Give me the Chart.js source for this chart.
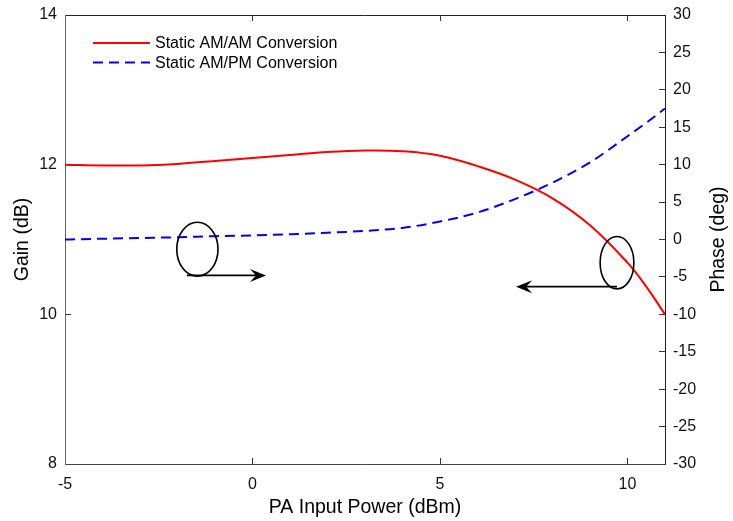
<!DOCTYPE html>
<html>
<head>
<meta charset="utf-8">
<title>Static AM/AM and AM/PM conversion</title>
<script src="https://cdn.jsdelivr.net/npm/chart.js@4.4.1/dist/chart.umd.min.js"></script>
<style>
  html, body { margin: 0; padding: 0; background: #fff; }
  canvas { display: block; }
</style>
</head>
<body>
<canvas id="amChart" width="733" height="521"></canvas>
<script>
// input power samples (dBm)
const inputPower = [-5, -4, -3, -2, -1, 0, 1, 2, 3, 4, 5, 6, 7, 8, 9, 10, 10.5, 11];
// gain (dB), left axis
const gainDb = [12.00, 11.99, 11.99, 12.01, 12.05, 12.09, 12.13, 12.17, 12.19, 12.18, 12.12, 11.98, 11.80, 11.55, 11.19, 10.69, 10.37, 10.00];
// phase (deg), right axis
const phaseDeg = [0.0, 0.1, 0.2, 0.3, 0.45, 0.55, 0.7, 0.9, 1.15, 1.55, 2.4, 3.6, 5.4, 7.6, 10.3, 13.8, 15.6, 17.5];

const xTicks = [-5, 0, 5, 10];
const gainTicks = [8, 10, 12, 14];
const phaseTicks = [-30, -25, -20, -15, -10, -5, 0, 5, 10, 15, 20, 25, 30];

// annotation marks, in data units (x: dBm, y: gain dB)
const ellipseCx = [-1.47, 9.72];
const ellipseCy = [10.87, 10.69];
const ellipseRx = [0.55, 0.45];
const ellipseRy = [0.36, 0.35];
const arrowFrom = [-1.75, 9.72];
const arrowTo = [0.36, 7.03];
const arrowY = [10.52, 10.37];

const FONT = '"Liberation Sans", Arial, Helvetica, sans-serif';
Chart.defaults.font.family = FONT;
Chart.defaults.color = '#111';

const toPts = (xs, ys) => xs.map((x, i) => ({x, y: ys[i]}));
const setTicks = vals => scale => { scale.ticks = vals.map(v => ({value: v})); };
const axisGrid = { drawOnChartArea: false, drawTicks: true, tickLength: -6, color: '#333', lineWidth: 1 };
// fixed box sizes, and no extra room for half-labels at the ends
const fixWidth = w => s => { s.width = w; s.paddingTop = 0; s.paddingBottom = 0; };
const fixHeight = h => s => { s.height = h; s.paddingLeft = 0; s.paddingRight = 0; };

// ellipses + arrows drawn on top, through the scales
const annotations = {
  id: 'annotations',
  afterDatasetsDraw(chart){
    const {ctx, scales: {x, y}} = chart;
    ctx.save();
    ctx.strokeStyle = '#000';
    ctx.fillStyle = '#000';
    ctx.lineWidth = 1.6;
    ellipseCx.forEach((cx, i) => {
      const px = x.getPixelForValue(cx), py = y.getPixelForValue(ellipseCy[i]);
      const rx = Math.abs(x.getPixelForValue(cx + ellipseRx[i]) - px);
      const ry = Math.abs(y.getPixelForValue(ellipseCy[i] + ellipseRy[i]) - py);
      ctx.beginPath();
      ctx.ellipse(px, py, rx, ry, 0, 0, Math.PI * 2);
      ctx.stroke();
    });
    arrowFrom.forEach((x0, i) => {
      const a = x.getPixelForValue(x0), b = x.getPixelForValue(arrowTo[i]);
      const py = y.getPixelForValue(arrowY[i]);
      const dir = Math.sign(b - a);
      ctx.beginPath();
      ctx.moveTo(a, py);
      ctx.lineTo(b - dir * 6, py);
      ctx.stroke();
      // stealth style head
      ctx.beginPath();
      ctx.moveTo(b, py);
      ctx.lineTo(b - dir * 16, py - 6.5);
      ctx.lineTo(b - dir * 10, py);
      ctx.lineTo(b - dir * 16, py + 6.5);
      ctx.closePath();
      ctx.fill();
    });
    ctx.restore();
  }
};

// legend inside the plot, top-left, no frame
const insideLegend = {
  id: 'insideLegend',
  afterDraw(chart){
    const {ctx, chartArea} = chart;
    ctx.save();
    ctx.font = '16px ' + FONT;
    ctx.textBaseline = 'middle';
    chart.data.datasets.forEach((ds, i) => {
      const yy = chartArea.top + 28 + i * 19.5;
      const x0 = chartArea.left + 28;
      ctx.strokeStyle = ds.borderColor;
      ctx.lineWidth = ds.borderWidth;
      ctx.setLineDash(ds.borderDash || []);
      ctx.beginPath();
      ctx.moveTo(x0, yy);
      ctx.lineTo(x0 + 57, yy);
      ctx.stroke();
      ctx.setLineDash([]);
      ctx.fillStyle = '#000';
      ctx.fillText(ds.label, x0 + 62, yy + 1);
    });
    // right axis title, reads bottom-to-top like the left one
    const r = chart.scales.y2;
    ctx.translate(719, (r.top + r.bottom) / 2);
    ctx.rotate(-Math.PI / 2);
    ctx.font = '19.5px ' + FONT;
    ctx.textAlign = 'center';
    ctx.fillStyle = '#000';
    ctx.fillText('Phase (deg)', 0, 0);
    ctx.restore();
  }
};

new Chart(document.getElementById('amChart').getContext('2d'), {
  type: 'line',
  data: {
    datasets: [
      {
        label: 'Static AM/AM Conversion',
        data: toPts(inputPower, gainDb),
        yAxisID: 'y',
        borderColor: '#ff0000',
        borderWidth: 2,
        pointRadius: 0,
        tension: 0.4
      },
      {
        label: 'Static AM/PM Conversion',
        data: toPts(inputPower, phaseDeg),
        yAxisID: 'y2',
        borderColor: '#0000ff',
        borderWidth: 2,
        borderDash: [10, 6],
        pointRadius: 0,
        cubicInterpolationMode: 'monotone'
      }
    ]
  },
  options: {
    responsive: false,
    animation: false,
    devicePixelRatio: 1,
    layout: { padding: 0 },
    plugins: { legend: { display: false }, tooltip: { enabled: false } },
    scales: {
      x: {
        type: 'linear', position: 'bottom', min: -5, max: 11,
        afterBuildTicks: setTicks(xTicks),
        afterFit: fixHeight(57),
        grid: axisGrid,
        border: { color: '#444', width: 1 },
        ticks: { padding: 17, font: { size: 16 } },
        title: { display: true, text: 'PA Input Power (dBm)', font: { size: 19.5 }, color: '#000', padding: { top: 0, bottom: 2 } }
      },
      x2: {
        type: 'linear', position: 'top', min: -5, max: 11,
        afterBuildTicks: setTicks(xTicks),
        afterFit: fixHeight(15),
        grid: axisGrid,
        border: { color: '#222', width: 1 },
        ticks: { display: false }
      },
      y: {
        type: 'linear', position: 'left', min: 8, max: 14,
        afterBuildTicks: setTicks(gainTicks),
        afterFit: fixWidth(65),
        grid: axisGrid,
        border: { color: '#666', width: 1 },
        ticks: { padding: 14, font: { size: 16 } },
        title: { display: true, text: 'Gain (dB)', font: { size: 19.5 }, color: '#000', padding: { top: 11, bottom: 0 } }
      },
      y2: {
        type: 'linear', position: 'right', min: -30, max: 30,
        afterBuildTicks: setTicks(phaseTicks),
        afterFit: fixWidth(68),
        grid: axisGrid,
        border: { color: '#222', width: 1 },
        ticks: { padding: 14, font: { size: 16 } }
      }
    }
  },
  plugins: [annotations, insideLegend]
});
</script>
</body>
</html>
